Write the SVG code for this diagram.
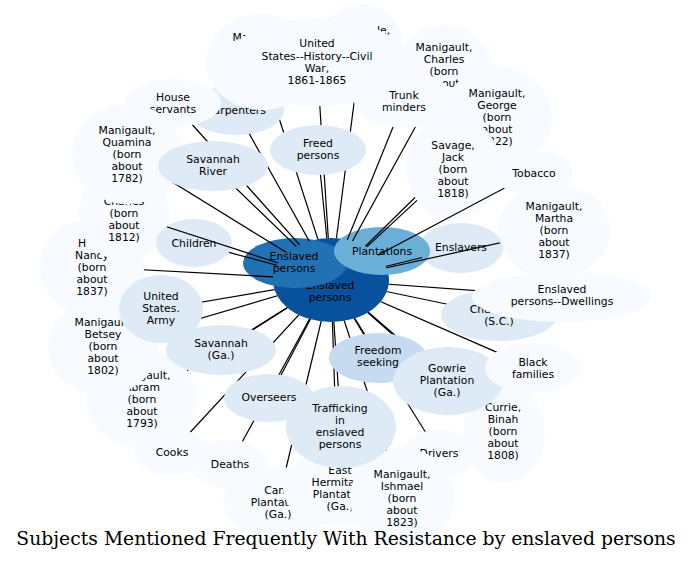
<svg xmlns="http://www.w3.org/2000/svg" width="700" height="587" viewBox="0 0 700 587">
<style>
.n0{fill:#f7fbff}.n1{fill:#deebf7}.n2{fill:#c6dbef}.n3{fill:#6baed6}.n4{fill:#2171b5}.n5{fill:#08519c}
text{font-family:"DejaVu Sans","Liberation Sans",sans-serif;font-size:10.8px;text-anchor:middle;fill:#000}
.title{font-family:"DejaVu Serif","Liberation Serif",serif;font-size:18.8px}
.e line{stroke:#000;stroke-width:1.2}
</style>
<defs>
<mask id="em" maskUnits="userSpaceOnUse" x="0" y="0" width="700" height="587">
<rect width="700" height="587" fill="#fff"/>
<g fill="#000">
<ellipse cx="331" cy="280" rx="58" ry="42"/>
<ellipse cx="236" cy="110" rx="48" ry="25"/>
<ellipse cx="262" cy="62" rx="56" ry="48"/>
<ellipse cx="362" cy="42" rx="40" ry="38"/>
<ellipse cx="317" cy="62" rx="90" ry="44"/>
<ellipse cx="173" cy="103" rx="48" ry="24"/>
<ellipse cx="92" cy="267" rx="52" ry="48"/>
<ellipse cx="124" cy="213" rx="45" ry="48"/>
<ellipse cx="127" cy="154" rx="55" ry="50"/>
<ellipse cx="213" cy="166" rx="55" ry="25"/>
<ellipse cx="318" cy="150" rx="48" ry="25"/>
<ellipse cx="444" cy="75" rx="50" ry="50"/>
<ellipse cx="404" cy="100" rx="50" ry="28"/>
<ellipse cx="497" cy="117" rx="55" ry="50"/>
<ellipse cx="533" cy="173" rx="40" ry="22"/>
<ellipse cx="554" cy="231" rx="56" ry="48"/>
<ellipse cx="499" cy="315" rx="58" ry="26"/>
<ellipse cx="562" cy="297" rx="90" ry="25"/>
<ellipse cx="142" cy="399" rx="55" ry="50"/>
<ellipse cx="103" cy="347" rx="55" ry="48"/>
<ellipse cx="161" cy="309" rx="42" ry="34"/>
<ellipse cx="221" cy="350" rx="55" ry="25"/>
<ellipse cx="172" cy="452" rx="37" ry="23"/>
<ellipse cx="230" cy="464" rx="38" ry="24"/>
<ellipse cx="269" cy="398" rx="45" ry="24"/>
<ellipse cx="278" cy="502" rx="55" ry="35"/>
<ellipse cx="338" cy="488" rx="55" ry="38"/>
<ellipse cx="439" cy="454" rx="38" ry="24"/>
<ellipse cx="402" cy="498" rx="52" ry="50"/>
<ellipse cx="341" cy="427" rx="55" ry="41"/>
<ellipse cx="378" cy="358" rx="49" ry="25"/>
<ellipse cx="504" cy="433" rx="41" ry="50"/>
<ellipse cx="448" cy="381" rx="55" ry="34"/>
<ellipse cx="533" cy="368" rx="48" ry="25"/>
</g>
</mask>
</defs>
<rect width="700" height="587" fill="#fff"/>
<g id="nodes">
<g id="carpenters"><ellipse class="n1" cx="236" cy="110" rx="48" ry="25"/><text x="236" y="114">Carpenters</text></g>
<g id="manigault-m"><ellipse class="n0" cx="262" cy="62" rx="56" ry="48"/><text x="261" y="41">Manigault,</text></g>
<g id="node-le"><ellipse class="n0" cx="362" cy="42" rx="40" ry="38"/><text x="377" y="34" style="text-anchor:start">le,</text></g>
<g id="civil-war"><ellipse class="n0" cx="317" cy="62" rx="90" ry="44"/><text x="317" y="47">United</text><text x="317" y="60">States--History--Civil</text><text x="317" y="72">War,</text><text x="317" y="84">1861-1865</text></g>
<g id="house-servants"><ellipse class="n0" cx="173" cy="103" rx="48" ry="24"/><text x="173" y="101">House</text><text x="173" y="113">servants</text></g>
<g id="nancy"><ellipse class="n0" cx="92" cy="267" rx="52" ry="48"/><text x="78" y="247" style="text-anchor:start">H</text><text x="92" y="259">Nancy</text><text x="92" y="271">(born</text><text x="92" y="283">about</text><text x="92" y="295">1837)</text></g>
<g id="node-1812"><ellipse class="n0" cx="124" cy="213" rx="45" ry="48"/><text x="124" y="205">Charles</text><text x="124" y="217">(born</text><text x="124" y="229">about</text><text x="124" y="241">1812)</text></g>
<g id="quamina"><ellipse class="n0" cx="127" cy="154" rx="55" ry="50"/><text x="127" y="134">Manigault,</text><text x="127" y="146">Quamina</text><text x="127" y="158">(born</text><text x="127" y="170">about</text><text x="127" y="182">1782)</text></g>
<g id="savannah-river"><ellipse class="n1" cx="213" cy="166" rx="55" ry="25"/><text x="213" y="163">Savannah</text><text x="213" y="175">River</text></g>
<g id="freed-persons"><ellipse class="n1" cx="318" cy="150" rx="48" ry="25"/><text x="318" y="147">Freed</text><text x="318" y="159">persons</text></g>
<g id="charles"><ellipse class="n0" cx="444" cy="75" rx="50" ry="50"/><text x="444" y="51">Manigault,</text><text x="444" y="63">Charles</text><text x="444" y="75">(born</text><text x="444" y="87">about</text></g>
<g id="trunk-minders"><ellipse class="n0" cx="404" cy="100" rx="50" ry="28"/><text x="404" y="99">Trunk</text><text x="404" y="111">minders</text></g>
<g id="george"><ellipse class="n0" cx="497" cy="117" rx="55" ry="50"/><text x="497" y="97">Manigault,</text><text x="497" y="109">George</text><text x="497" y="121">(born</text><text x="497" y="133">about</text><text x="497" y="145">1822)</text></g>
<g id="jack"><ellipse class="n0" cx="453" cy="167" rx="47" ry="52"/><text x="453" y="149">Savage,</text><text x="453" y="161">Jack</text><text x="453" y="173">(born</text><text x="453" y="185">about</text><text x="453" y="197">1818)</text></g>
<g id="tobacco"><ellipse class="n0" cx="533" cy="173" rx="40" ry="22"/><text x="534" y="177">Tobacco</text></g>
<g id="martha"><ellipse class="n0" cx="554" cy="231" rx="56" ry="48"/><text x="554" y="210">Manigault,</text><text x="554" y="222">Martha</text><text x="554" y="234">(born</text><text x="554" y="246">about</text><text x="554" y="258">1837)</text></g>
<g id="enslavers"><ellipse class="n1" cx="461" cy="248" rx="42" ry="25"/><text x="461" y="251">Enslavers</text></g>
<g id="charleston"><ellipse class="n1" cx="499" cy="315" rx="58" ry="26"/><text x="499" y="313">Charleston</text><text x="499" y="325">(S.C.)</text></g>
<g id="dwellings"><ellipse class="n0" cx="562" cy="297" rx="90" ry="25"/><text x="562" y="293">Enslaved</text><text x="562" y="305">persons--Dwellings</text></g>
<g id="children"><ellipse class="n1" cx="194" cy="243" rx="38" ry="24"/><text x="194" y="247">Children</text></g>
<g id="abram"><ellipse class="n0" cx="142" cy="399" rx="55" ry="50"/><text x="142" y="379">Manigault,</text><text x="142" y="391">Abram</text><text x="142" y="403">(born</text><text x="142" y="415">about</text><text x="142" y="427">1793)</text></g>
<g id="betsey"><ellipse class="n0" cx="103" cy="347" rx="55" ry="48"/><text x="103" y="326">Manigault,</text><text x="103" y="338">Betsey</text><text x="103" y="350">(born</text><text x="103" y="362">about</text><text x="103" y="374">1802)</text></g>
<g id="army"><ellipse class="n1" cx="161" cy="309" rx="42" ry="34"/><text x="161" y="300">United</text><text x="161" y="312">States.</text><text x="161" y="324">Army</text></g>
<g id="savannah-ga"><ellipse class="n1" cx="221" cy="350" rx="55" ry="25"/><text x="221" y="347">Savannah</text><text x="221" y="359">(Ga.)</text></g>
<g id="cooks"><ellipse class="n0" cx="172" cy="452" rx="37" ry="23"/><text x="172" y="456">Cooks</text></g>
<g id="deaths"><ellipse class="n0" cx="230" cy="464" rx="38" ry="24"/><text x="230" y="468">Deaths</text></g>
<g id="overseers"><ellipse class="n1" cx="269" cy="398" rx="45" ry="24"/><text x="269" y="401">Overseers</text></g>
<g id="cane-plantation"><ellipse class="n0" cx="278" cy="502" rx="55" ry="35"/><text x="278" y="494">Cane</text><text x="278" y="506">Plantation</text><text x="278" y="518">(Ga.)</text></g>
<g id="east-hermitage"><ellipse class="n0" cx="338" cy="488" rx="55" ry="38"/><text x="340" y="474">East</text><text x="340" y="486">Hermitage</text><text x="340" y="498">Plantation</text><text x="340" y="510">(Ga.)</text></g>
<g id="drivers"><ellipse class="n0" cx="439" cy="454" rx="38" ry="24"/><text x="439" y="457">Drivers</text></g>
<g id="ishmael"><ellipse class="n0" cx="402" cy="498" rx="52" ry="50"/><text x="402" y="478">Manigault,</text><text x="402" y="490">Ishmael</text><text x="402" y="502">(born</text><text x="402" y="514">about</text><text x="402" y="526">1823)</text></g>
<g id="trafficking"><ellipse class="n1" cx="341" cy="427" rx="55" ry="41"/><text x="340" y="412">Trafficking</text><text x="340" y="424">in</text><text x="340" y="436">enslaved</text><text x="340" y="448">persons</text></g>
<g id="freedom-seeking"><ellipse class="n2" cx="378" cy="358" rx="49" ry="25"/><text x="378" y="354">Freedom</text><text x="378" y="366">seeking</text></g>
<g id="currie"><ellipse class="n0" cx="504" cy="433" rx="41" ry="50"/><text x="503" y="411">Currie,</text><text x="503" y="423">Binah</text><text x="503" y="435">(born</text><text x="503" y="447">about</text><text x="503" y="459">1808)</text></g>
<g id="gowrie"><ellipse class="n1" cx="448" cy="381" rx="55" ry="34"/><text x="447" y="372">Gowrie</text><text x="447" y="384">Plantation</text><text x="447" y="396">(Ga.)</text></g>
<g id="black-families"><ellipse class="n0" cx="533" cy="368" rx="48" ry="25"/><text x="533" y="366">Black</text><text x="533" y="378">families</text></g>
<g id="enslaved-persons-main"><ellipse class="n5" cx="331" cy="280" rx="58" ry="42"/><text x="330" y="289">Enslaved</text><text x="330" y="301">persons</text></g>
<g id="enslaved-persons-2"><ellipse class="n4" cx="295" cy="263" rx="52" ry="25"/><text x="294" y="260">Enslaved</text><text x="294" y="272">persons</text></g>
<g id="plantations"><ellipse class="n3" cx="382" cy="251" rx="48" ry="24"/><text x="382" y="255">Plantations</text></g>
</g>
<g id="edges" class="e" mask="url(#em)">
<line x1="331" y1="280" x2="261" y2="62"/>
<line x1="331" y1="280" x2="362" y2="42"/>
<line x1="331" y1="280" x2="317" y2="62"/>
<line x1="331" y1="280" x2="444" y2="75"/>
<line x1="331" y1="280" x2="404" y2="100"/>
<line x1="331" y1="280" x2="415" y2="197.5"/>
<line x1="331" y1="280" x2="173" y2="103"/>
<line x1="331" y1="280" x2="236" y2="110"/>
<line x1="331" y1="280" x2="127" y2="154"/>
<line x1="331" y1="280" x2="213" y2="166"/>
<line x1="331" y1="280" x2="318" y2="150"/>
<line x1="331" y1="280" x2="417" y2="200.4"/>
<line x1="331" y1="280" x2="533" y2="173"/>
<line x1="331" y1="280" x2="124" y2="213"/>
<line x1="331" y1="280" x2="229" y2="252.4"/>
<line x1="331" y1="280" x2="92" y2="267"/>
<line x1="331" y1="280" x2="422" y2="257.5"/>
<line x1="331" y1="280" x2="554" y2="231"/>
<line x1="331" y1="280" x2="562" y2="297"/>
<line x1="331" y1="280" x2="499" y2="315"/>
<line x1="331" y1="280" x2="161" y2="309"/>
<line x1="331" y1="280" x2="103" y2="347"/>
<line x1="331" y1="280" x2="221" y2="350"/>
<line x1="331" y1="280" x2="142" y2="399"/>
<line x1="331" y1="280" x2="172" y2="452"/>
<line x1="331" y1="280" x2="269" y2="398"/>
<line x1="331" y1="280" x2="230" y2="464"/>
<line x1="331" y1="280" x2="278" y2="502"/>
<line x1="331" y1="280" x2="341" y2="427"/>
<line x1="331" y1="280" x2="338" y2="488"/>
<line x1="331" y1="280" x2="378" y2="358"/>
<line x1="331" y1="280" x2="448" y2="381"/>
<line x1="331" y1="280" x2="439" y2="454"/>
<line x1="331" y1="280" x2="402" y2="498"/>
<line x1="331" y1="280" x2="504" y2="433"/>
<line x1="331" y1="280" x2="533" y2="368"/>
</g>
<text class="title" x="346" y="545">Subjects Mentioned Frequently With Resistance by enslaved persons</text>
</svg>
